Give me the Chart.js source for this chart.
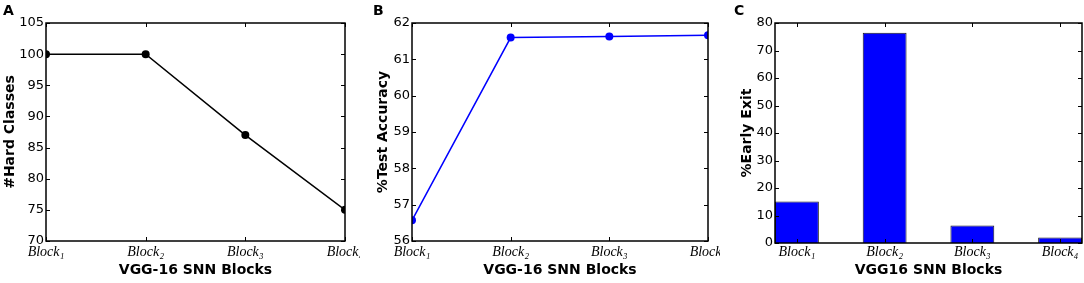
<!DOCTYPE html>
<html><head><meta charset="utf-8">
<script src="https://cdn.jsdelivr.net/npm/chart.js@4/dist/chart.umd.min.js"></script>
<style>
html,body{margin:0;padding:0;background:#fff;width:1084px;height:283px;overflow:hidden}
.p{position:absolute;top:0;height:283px}
.lbl{position:absolute;top:3px;font:bold 14px 'DejaVu Sans',sans-serif;line-height:14px;color:#000}
</style></head><body>
<div class="p" style="left:0;width:360px"><canvas id="cA" width="360" height="283"></canvas></div>
<div class="p" style="left:360px;width:360px"><canvas id="cB" width="360" height="283"></canvas></div>
<div class="p" style="left:720px;width:364px"><canvas id="cC" width="364" height="283"></canvas></div>
<div class="lbl" style="left:3px">A</div>
<div class="lbl" style="left:373px">B</div>
<div class="lbl" style="left:734px">C</div>
<script>
// ---- data ----
const blocks = ['Block\u2081','Block\u2082','Block\u2083','Block\u2084'];
const hardClasses = [100, 100, 87, 75];
const testAccuracy = [56.57, 61.60, 61.63, 61.66];
const earlyExit = [15.1, 76.5, 6.4, 2.0];
const yTicksA = [70, 75, 80, 85, 90, 95, 100, 105];
const yTicksB = [56, 57, 58, 59, 60, 61, 62];
const yTicksC = [0, 10, 20, 30, 40, 50, 60, 70, 80];
const titleX_AB = 'VGG-16 SNN Blocks';
const titleX_C = 'VGG16 SNN Blocks';

// ---- styling helpers ----
const tickFont = {family: "'DejaVu Sans', sans-serif", size: 13};
const xTickFont = {family: "'Liberation Serif','DejaVu Serif',serif", size: 14, style: 'italic'};
const titleFont = {family: "'DejaVu Sans', sans-serif", size: 14, weight: 'bold'};

const frame = {
  id: 'frame',
  afterDatasetsDraw(chart) {
    const {ctx, chartArea: {left, right, top, bottom}, scales: {x, y}} = chart;
    ctx.save();
    ctx.strokeStyle = '#000';
    ctx.lineWidth = 1;
    ctx.beginPath();
    const L = 4;
    x.ticks.forEach((t, i) => {
      const px = Math.round(x.getPixelForTick(i)) + 0.5;
      ctx.moveTo(px, bottom); ctx.lineTo(px, bottom - L);
      ctx.moveTo(px, top); ctx.lineTo(px, top + L);
    });
    y.ticks.forEach((t, i) => {
      const py = Math.round(y.getPixelForTick(i)) + 0.5;
      ctx.moveTo(left, py); ctx.lineTo(left + L, py);
      ctx.moveTo(right, py); ctx.lineTo(right - L, py);
    });
    ctx.stroke();
    ctx.lineWidth = 1.5;
    ctx.strokeRect(left, top, right - left, bottom - top);
    ctx.restore();
  }
};

function yScale(ticksArr, title, width) {
  return {
    min: ticksArr[0], max: ticksArr[ticksArr.length - 1],
    afterBuildTicks(s) { s.ticks = ticksArr.map(v => ({value: v})); },
    grid: {display: false, drawTicks: false},
    border: {display: false},
    ticks: {font: tickFont, color: '#000', padding: 2},
    title: {display: true, text: title, font: titleFont, color: '#000', padding: 0},
    afterFit(s) { s.width = width; }
  };
}
function xTitle(text) {
  return {display: true, text: text, font: titleFont, color: '#000', padding: 0};
}

const common = {
  responsive: false, animation: false, devicePixelRatio: 1,
  plugins: {legend: {display: false}, tooltip: {enabled: false}}
};

// ---- Panel A ----
new Chart(document.getElementById('cA'), {
  type: 'line',
  data: {labels: blocks, datasets: [{
    data: hardClasses, borderColor: '#000', borderWidth: 1.5,
    pointRadius: 4, pointBackgroundColor: '#000', pointBorderWidth: 0, clip: 0
  }]},
  options: Object.assign({}, common, {
    layout: {padding: {left: 2, right: 15, top: 23, bottom: 4}},
    scales: {
      x: {offset: false, grid: {display: false, drawTicks: false}, border: {display: false},
          ticks: {font: xTickFont, color: '#000', padding: 3, autoSkip: false, maxRotation: 0},
          title: xTitle(titleX_AB),
          afterFit(s) { s.height = 38; s.paddingLeft = 0; s.paddingRight = 0; }},
      y: yScale(yTicksA, '#Hard Classes', 44)
    }
  }),
  plugins: [frame]
});

// ---- Panel B ----
new Chart(document.getElementById('cB'), {
  type: 'line',
  data: {labels: blocks, datasets: [{
    data: testAccuracy, borderColor: '#0000ff', borderWidth: 1.5,
    pointRadius: 4, pointBackgroundColor: '#0000ff', pointBorderWidth: 0, clip: 0
  }]},
  options: Object.assign({}, common, {
    layout: {padding: {left: 15, right: 12, top: 23, bottom: 4}},
    scales: {
      x: {offset: false, grid: {display: false, drawTicks: false}, border: {display: false},
          ticks: {font: xTickFont, color: '#000', padding: 3, autoSkip: false, maxRotation: 0},
          title: xTitle(titleX_AB),
          afterFit(s) { s.height = 38; s.paddingLeft = 0; s.paddingRight = 0; }},
      y: yScale(yTicksB, '%Test Accuracy', 37)
    }
  }),
  plugins: [frame]
});

// ---- Panel C ----
new Chart(document.getElementById('cC'), {
  type: 'bar',
  data: {datasets: [{
    data: earlyExit.map((v, i) => ({x: i + 0.25, y: v})),
    backgroundColor: '#0000ff', borderColor: '#1a1a1a', borderWidth: 1,
    categoryPercentage: 1, barPercentage: 0.5
  }]},
  options: Object.assign({}, common, {
    layout: {padding: {left: 19, right: 2, top: 23, bottom: 4}},
    scales: {
      x: {type: 'linear', min: 0, max: blocks.length - 0.5, offset: false,
          afterBuildTicks(s) { s.ticks = blocks.map((b, i) => ({value: i + 0.25})); },
          grid: {display: false, drawTicks: false}, border: {display: false},
          ticks: {font: xTickFont, color: '#000', padding: 1, autoSkip: false, maxRotation: 0,
                  callback: (v, i) => blocks[i]},
          title: xTitle(titleX_C),
          afterFit(s) { s.height = 36; s.paddingLeft = 0; s.paddingRight = 0; }},
      y: yScale(yTicksC, '%Early Exit', 36)
    }
  }),
  plugins: [frame]
});
</script>
</body></html>
